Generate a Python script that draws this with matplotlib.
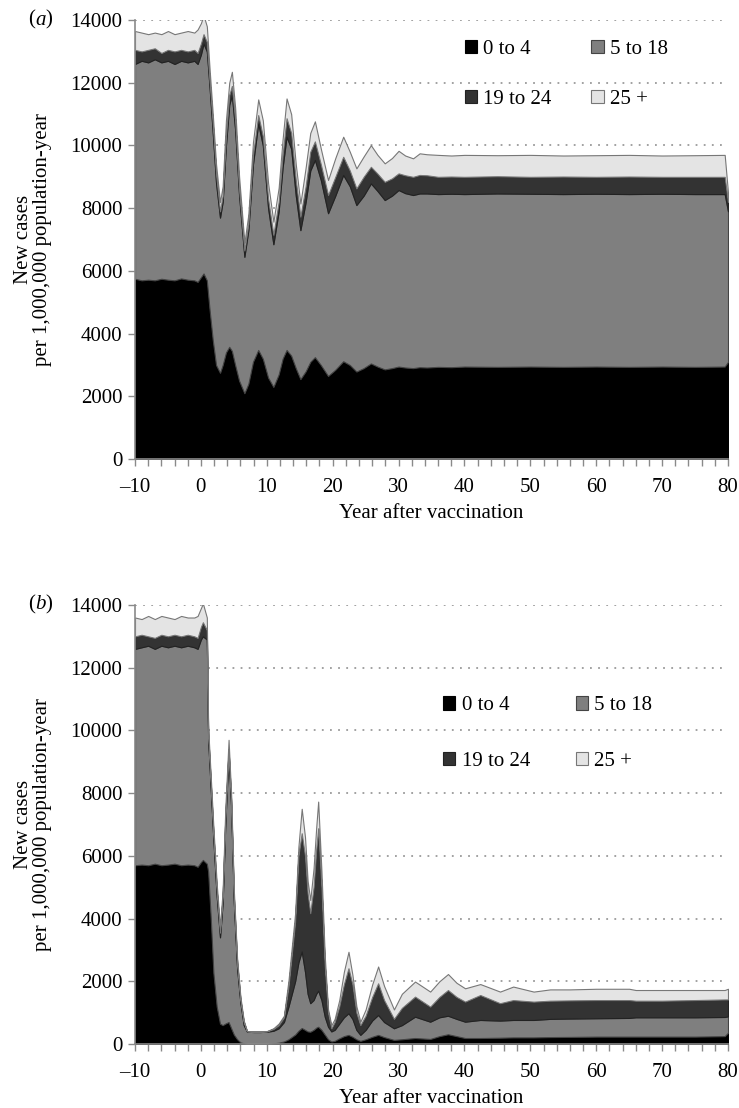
import matplotlib
matplotlib.use("Agg")
import matplotlib.pyplot as plt

plt.rcParams['font.family'] = ['Liberation Serif', 'DejaVu Serif']

age_groups = ['0 to 4', '5 to 18', '19 to 24', '25 +']
colors = ['#000000', '#7f7f7f', '#333333', '#e4e4e4']
edges = ['#000000', '#444444', '#222222', '#777777']

# panel (a): new cases per age group (layer thickness)
years_a = [-10, -9, -8, -7, -6, -5, -4, -3, -2, -1, -0.5, 0.0, 0.4, 0.9, 1.3, 1.8,
           2.3, 2.9, 3.3, 3.8, 4.3, 4.7, 5.2, 5.8, 6.6, 7.2, 7.9, 8.7, 9.4, 10.2,
           11.0, 11.8, 12.4, 13.0, 13.7, 14.4, 15.1, 15.9, 16.6, 17.3, 18.2, 19.3,
           20.4, 21.6, 22.6, 23.6, 24.7, 25.8, 26.8, 27.9, 29.0, 30.0, 31.0, 32.2,
           33.2, 34.3, 36, 38, 40, 45, 50, 55, 60, 65, 70, 75, 79.5, 80]
a_0_4 = [5750, 5700, 5720, 5700, 5750, 5720, 5700, 5760, 5720, 5700, 5650, 5800, 5920, 5700, 4800, 3800,
         3000, 2750, 3000, 3400, 3580, 3450, 3000, 2500, 2100, 2400, 3100, 3480, 3200, 2600,
         2300, 2700, 3200, 3480, 3300, 2900, 2550, 2800, 3100, 3250, 3000, 2650,
         2850, 3120, 3000, 2790, 2900, 3050, 2950, 2860, 2900, 2950, 2920, 2900,
         2930, 2920, 2940, 2930, 2950, 2940, 2950, 2940, 2950, 2940, 2950, 2940, 2950, 3100]
a_5_18 = [6850, 7000, 6930, 7050, 6900, 6980, 6900, 6940, 6930, 7000, 6950, 7100, 7330, 7300, 7100, 6600,
          5800, 4950, 5200, 6600, 7720, 8150, 7500, 5900, 4350, 4900, 6300, 7220, 6800, 5400,
          4550, 5200, 6100, 6800, 6600, 5500, 4750, 5400, 6100, 6290, 5900, 5190,
          5550, 5940, 5700, 5310, 5500, 5740, 5600, 5400, 5500, 5630, 5560, 5520,
          5540, 5550, 5510, 5530, 5500, 5530, 5510, 5510, 5510, 5510, 5510, 5510, 5500, 4800]
a_19_24 = [450, 300, 400, 350, 300, 350, 400, 350, 350, 350, 350, 350, 300, 300, 200, 300,
           300, 200, 200, 300, 300, 300, 300, 200, 200, 200, 300, 270, 300, 300,
           300, 300, 400, 590, 500, 500, 430, 500, 600, 590, 500, 580,
           600, 580, 500, 530, 600, 530, 550, 580, 550, 530, 570, 580,
           590, 580, 550, 550, 550, 550, 540, 560, 540, 560, 540, 550, 550, 300]
a_25_plus = [600, 600, 500, 500, 600, 600, 550, 550, 650, 550, 750, 650, 600, 500, 400, 300,
             300, 300, 300, 500, 400, 450, 400, 400, 250, 300, 400, 500, 500, 500,
             420, 450, 500, 630, 600, 500, 420, 600, 600, 640, 500, 480,
             600, 640, 600, 640, 650, 690, 600, 590, 650, 720, 630, 590,
             690, 670, 700, 670, 700, 670, 700, 670, 690, 690, 680, 690, 700, 300]

# panel (b)
years_b = [-10, -9, -8, -7, -6, -5, -4, -3, -2, -1, -0.5, 0.0, 0.3, 0.9, 1.1, 1.5, 1.9,
           2.4, 2.9, 3.3, 3.7, 4.2, 4.6, 5.0, 5.5, 6.0, 6.5, 7.0, 8, 9, 10, 11, 11.8,
           12.6, 13.3, 14.3, 14.8, 15.3, 15.8, 16.2, 16.6, 17.1, 17.5, 17.8, 18.3,
           18.8, 19.3, 19.8, 20.3, 21.0, 21.7, 22.4, 23.0, 23.6, 24.2, 25.0, 26.0,
           26.9, 27.8, 29.3, 30.5, 32.5, 34.8, 36.2, 37.5, 38.8, 40.1, 42.4, 45.4,
           47.4, 50.5, 53, 56, 60, 65, 66, 70, 75, 79.5, 80]
b_0_4 = [5700, 5720, 5700, 5750, 5700, 5720, 5750, 5700, 5720, 5700, 5650, 5800, 5870, 5750, 5500, 4000, 2260,
         1190, 650, 600, 650, 700, 500, 300, 150, 50, 20, 0, 0, 0, 0, 20, 40,
         80, 150, 300, 420, 510, 450, 400, 390, 450, 520, 550, 450,
         300, 150, 80, 100, 180, 250, 290, 230, 150, 100, 150, 230,
         290, 220, 130, 150, 190, 160, 250, 310, 250, 190, 190, 200,
         210, 210, 220, 225, 235, 235, 235, 235, 235, 250, 360]
b_5_18 = [6900, 6930, 7000, 6850, 7000, 6930, 6950, 6950, 6980, 6950, 6950, 7100, 7130, 7150, 4200, 4100, 4240,
          3510, 2750, 3900, 6350, 8600, 7000, 4200, 2250, 1250, 580, 390, 380, 380, 390, 400, 460,
          620, 1050, 1700, 2180, 2440, 1850, 1200, 910, 950, 1080, 1150, 950,
          570, 400, 320, 350, 470, 600, 690, 570, 300, 190, 300, 520,
          635, 480, 370, 450, 680, 550, 600, 590, 550, 520, 575, 545,
          555, 555, 580, 585, 585, 595, 615, 615, 615, 610, 520]
b_19_24 = [400, 400, 300, 350, 350, 350, 350, 350, 350, 350, 350, 400, 450, 300, 200, 200, 200,
           200, 150, 200, 200, 100, 200, 200, 200, 100, 100, 10, 10, 10, 10, 60, 100,
           150, 650, 1900, 3400, 3770, 3700, 3200, 2870, 3600, 4600, 5180, 3600,
           1630, 450, 100, 250, 550, 1050, 1435, 1100, 550, 310, 450, 750,
           1010, 700, 300, 550, 640, 480, 650, 820, 700, 640, 795, 555,
           635, 585, 580, 580, 580, 570, 530, 530, 550, 560, 540]
b_25_plus = [600, 500, 650, 600, 600, 600, 500, 650, 550, 600, 700, 600, 600, 400, 200, 200, 200,
             200, 190, 200, 300, 300, 200, 200, 100, 100, 50, 10, 10, 10, 10, 20, 50,
             50, 190, 270, 290, 780, 600, 400, 420, 600, 700, 850, 500,
             300, 100, 100, 100, 200, 400, 525, 300, 200, 110, 200, 400,
             535, 450, 300, 450, 480, 480, 500, 510, 450, 425, 350, 370,
             430, 320, 360, 350, 360, 360, 340, 340, 320, 300, 340]

fig = plt.figure(figsize=(7.39, 11.08), dpi=100)
ax_a = fig.add_axes([0.1827, 0.5857, 0.8024, 0.3962])
ax_b = fig.add_axes([0.1827, 0.0578, 0.8024, 0.3962])

panels = [
    (ax_a, years_a, [a_0_4, a_5_18, a_19_24, a_25_plus], 'a', (0.556, 0.955), 1.9, 1.5),
    (ax_b, years_b, [b_0_4, b_5_18, b_19_24, b_25_plus], 'b', (0.519, 0.792), 2.2, 1.75),
]

for ax, years, layers, tag, leg_pos, colspace, rowspace in panels:
    polys = ax.stackplot(years, *layers, colors=colors, labels=age_groups, zorder=2)
    for p, ec in zip(polys, edges):
        p.set_edgecolor(ec)
        p.set_linewidth(0.8)

    ax.set_xlim(-10, 80)
    ax.set_ylim(0, 14000)
    ax.set_xticks(range(-10, 81, 10))
    ax.set_xticklabels(['\u201310'] + [str(v) for v in range(0, 81, 10)])
    ax.set_xticks(range(-10, 81, 2), minor=True)
    ax.set_yticks(range(0, 14001, 2000))

    ax.yaxis.grid(True, linestyle=(0, (1, 3.5)), color='#9a9a9a', linewidth=1.3)
    ax.set_axisbelow(True)
    for side in ['top', 'right']:
        ax.spines[side].set_visible(False)
    for side in ['left', 'bottom']:
        ax.spines[side].set_color('#8a8a8a')
        ax.spines[side].set_linewidth(1.2)
    ax.tick_params(which='both', direction='out', length=5, width=1, color='#8a8a8a',
                   labelsize=15)
    ax.tick_params(axis='x', which='both', pad=9)
    ax.tick_params(axis='y', pad=4)

    ax.set_xlabel('Year after vaccination', fontsize=15, labelpad=5)
    ax.set_ylabel('New cases\nper 1,000,000 population-year', fontsize=15, linespacing=1.0)
    ax.yaxis.set_label_coords(-0.14, 0.5)

    # panel tag "(a)" / "(b)" with italic letter
    x0 = -0.181
    ax.text(x0, 1.0, '(', transform=ax.transAxes, fontsize=15, ha='left', va='center')
    ax.text(x0 + 0.0125, 1.0, tag, transform=ax.transAxes, fontsize=15, ha='left',
            va='center', style='italic')
    ax.text(x0 + 0.030, 1.0, ')', transform=ax.transAxes, fontsize=15, ha='left', va='center')

    order = [0, 2, 1, 3]
    ax.legend([polys[i] for i in order], [age_groups[i] for i in order], ncol=2,
              loc='upper left', bbox_to_anchor=leg_pos, frameon=False, fontsize=15,
              handlelength=0.6, handleheight=0.6, handletextpad=0.3,
              columnspacing=colspace, labelspacing=rowspace, borderpad=0, borderaxespad=0)

fig.savefig('out.png', dpi=100)
